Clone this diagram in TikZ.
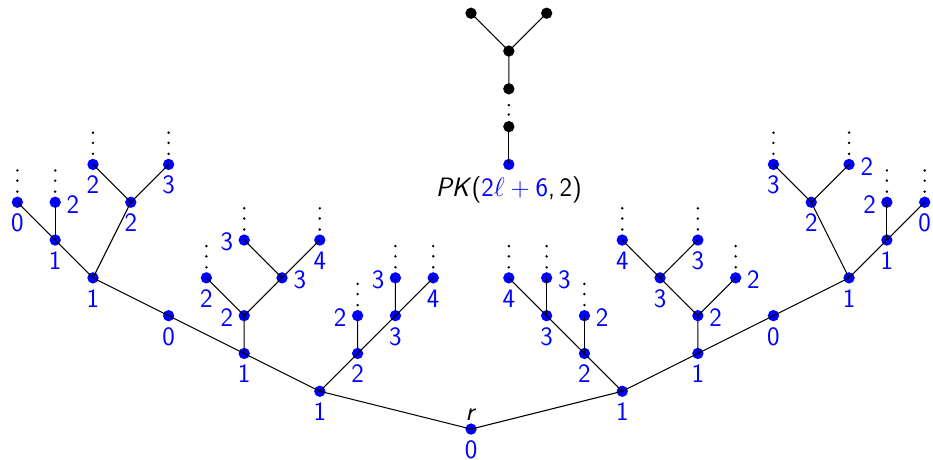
\documentclass[tikz,border=0pt]{standalone}
\usepackage{fix-cm}
\usepackage{fontspec}
\usetikzlibrary{calc}
\tikzset{
  vtx/.style={circle,fill=blue,inner sep=0pt,minimum size=0.3cm},
  bvtx/.style={circle,fill=black,inner sep=0pt,minimum size=0.3cm},
  lab/.style={text=blue,anchor=base,inner sep=0pt},
  labB/.style={yshift=-0.78cm},
  labL/.style={xshift=-0.46cm,yshift=-0.285cm},
  labR/.style={xshift=0.47cm,yshift=-0.285cm},
  edge/.style={line width=0.8pt},
}
% #1 name, #2 x, #3 y, #4 label style, #5 label text
\newcommand{\Vx}[5]{\node[vtx] (#1) at (#2,#3) {};
  \node[lab,#4] (#1l) at (#2,#3) {#5};}
\newcommand{\Dts}[1]{\fill ($(#1)+(0,0.28)$) circle (0.036)
  ($(#1)+(0,0.57)$) circle (0.036) ($(#1)+(0,0.84)$) circle (0.036);}
\begin{document}
\begin{tikzpicture}[font=\sffamily\fontsize{20}{24}\selectfont]
\useasboundingbox (-12.46,-0.794) rectangle (12.22,11.35);
% root
\node[vtx] (r0) at (0,0) {};
\node[lab,labB] (r0l) at (0,0) {0};
\node[anchor=base,inner sep=0pt] (r0t) at (0,0.24) {\textit{r}};
% left side
\Vx{l41}{-4}{1}{labB}{1}
\Vx{l62}{-6}{2}{labB}{1}
\Vx{l32}{-3}{2}{labB}{2}
\Vx{l83}{-8}{3}{labB}{0}
\Vx{l63}{-6}{3}{labL}{2}
\Vx{l33}{-3}{3}{labL}{2}
\Vx{l23}{-2}{3}{labB}{3}
\Vx{l104}{-10}{4}{labB}{1}
\Vx{l74}{-7}{4}{labB}{2}
\Vx{l54}{-5}{4}{labR}{3}
\Vx{l24}{-2}{4}{labL}{3}
\Vx{l14}{-1}{4}{labB}{4}
\Vx{l115}{-11}{5}{labB}{1}
\Vx{l65}{-6}{5}{labL}{3}
\Vx{l45}{-4}{5}{labB}{4}
\Vx{l126}{-12}{6}{labB}{0}
\Vx{l116}{-11}{6}{labR}{2}
\Vx{l96}{-9}{6}{labB}{2}
\Vx{l107}{-10}{7}{labB}{2}
\Vx{l87}{-8}{7}{labB}{3}
% right side
\Vx{r41}{4}{1}{labB}{1}
\Vx{r32}{3}{2}{labB}{2}
\Vx{r62}{6}{2}{labB}{1}
\Vx{r23}{2}{3}{labB}{3}
\Vx{r33}{3}{3}{labR}{2}
\Vx{r63}{6}{3}{labR}{2}
\Vx{r83}{8}{3}{labB}{0}
\Vx{r14}{1}{4}{labB}{4}
\Vx{r24}{2}{4}{labR}{3}
\Vx{r54}{5}{4}{labB}{3}
\Vx{r74}{7}{4}{labR}{2}
\Vx{r104}{10}{4}{labB}{1}
\Vx{r45}{4}{5}{labB}{4}
\Vx{r65}{6}{5}{labB}{3}
\Vx{r115}{11}{5}{labB}{1}
\Vx{r96}{9}{6}{labB}{2}
\Vx{r116}{11}{6}{labL}{2}
\Vx{r126}{12}{6}{labB}{0}
\Vx{r87}{8}{7}{labB}{3}
\Vx{r107}{10}{7}{labR}{2}
% PK path
\node[vtx] (p7) at (1,7) {};
\node[bvtx] (p8) at (1,8) {};
\node[bvtx] (p9) at (1,9) {};
\node[bvtx] (p10) at (1,10) {};
\node[bvtx] (p11a) at (0,11) {};
\node[bvtx] (p11b) at (2,11) {};
\node[anchor=base,inner sep=0pt] (pk) at (1,6.143)
  {\textit{PK}(\textcolor{blue}{2$\ell+{}$6},\,2)};
% edges
\draw[edge] (r0.center) -- (l41.center) -- (l62.center) -- (l83.center) -- (l104.center) -- (l115.center) -- (l126.center);
\draw[edge] (l115.center) -- (l116.center);
\draw[edge] (l104.center) -- (l96.center) -- (l107.center);
\draw[edge] (l96.center) -- (l87.center);
\draw[edge] (l62.center) -- (l63.center) -- (l74.center);
\draw[edge] (l63.center) -- (l54.center) -- (l65.center);
\draw[edge] (l54.center) -- (l45.center);
\draw[edge] (l41.center) -- (l32.center) -- (l33.center);
\draw[edge] (l32.center) -- (l23.center) -- (l24.center);
\draw[edge] (l23.center) -- (l14.center);
\draw[edge] (r0.center) -- (r41.center) -- (r62.center) -- (r83.center) -- (r104.center) -- (r115.center) -- (r126.center);
\draw[edge] (r115.center) -- (r116.center);
\draw[edge] (r104.center) -- (r96.center) -- (r87.center);
\draw[edge] (r96.center) -- (r107.center);
\draw[edge] (r41.center) -- (r32.center) -- (r23.center) -- (r14.center);
\draw[edge] (r23.center) -- (r24.center);
\draw[edge] (r32.center) -- (r33.center);
\draw[edge] (r62.center) -- (r63.center) -- (r54.center) -- (r45.center);
\draw[edge] (r54.center) -- (r65.center);
\draw[edge] (r63.center) -- (r74.center);
\draw[edge] (p7.center) -- (p8.center);
\draw[edge] (p9.center) -- (p10.center) -- (p11a.center);
\draw[edge] (p10.center) -- (p11b.center);
% dots
\foreach \n in {l33,l74,l24,l14,l65,l45,l126,l116,l107,l87,
                r33,r14,r24,r74,r45,r65,r116,r126,r87,r107} {\Dts{\n}}
\fill (1,8.57) circle (0.036) (1,8.32) circle (0.036) (1,8.07) circle (0.036);
\end{tikzpicture}
\end{document}
